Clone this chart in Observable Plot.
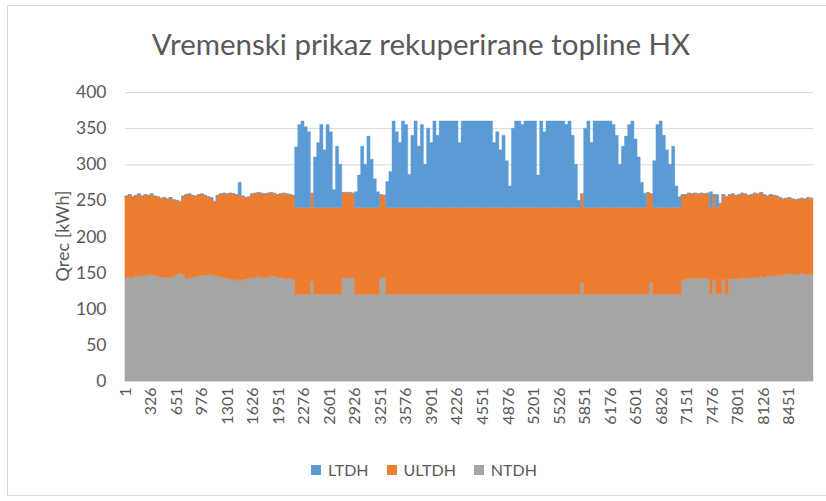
<!DOCTYPE html>
<html><head><meta charset="utf-8">
<script src="https://cdn.jsdelivr.net/npm/d3@7"></script>
<script src="https://cdn.jsdelivr.net/npm/@observablehq/plot@0.6"></script>
<style>
body{margin:0;background:#fff;font-family:Lato,"Open Sans",sans-serif;}
#frame{position:relative;width:826px;height:501px;overflow:hidden;background:#fff;}
#border{position:absolute;left:7px;top:5px;width:840px;height:491px;border:1px solid #d9d9d9;box-sizing:border-box;}
#title{position:absolute;left:0;width:842px;top:26px;text-align:center;font-size:29.5px;color:#595959;line-height:36px;}
#chart{position:absolute;left:0;top:70px;}
#ylabel{position:absolute;left:62px;top:236px;transform:translate(-50%,-50%) rotate(-90deg);font-size:18px;color:#595959;white-space:nowrap;}
#legend{position:absolute;top:460px;left:311px;display:flex;align-items:center;font-size:16px;color:#595959;}
.sw{display:inline-block;width:10px;height:10px;margin-right:7px;}
.it{display:flex;align-items:center;margin-right:18px;}
</style>
</head><body>
<div id="frame">
<div id="border"></div>
<div id="title">Vremenski prikaz rekuperirane topline HX</div>
<div id="chart"></div>
<div id="ylabel">Qrec [kWh]</div>
<div id="legend"></div>
</div>
<script>
// Series names, colours
const seriesNames = ["NTDH", "ULTDH", "LTDH"];
const seriesColors = ["#A5A5A5", "#ED7D31", "#5B9BD5"];
const legendOrder = ["LTDH", "ULTDH", "NTDH"];
// hourly data summarized in 40-hour bins (219 bins for 8760 hours)
const binHours = 40;
const totalHours = 8760;
const xTickLabels = [1,326,651,976,1301,1626,1951,2276,2601,2926,3251,3576,3901,4226,4551,4876,5201,5526,5851,6176,6501,6826,7151,7476,7801,8126,8451];
const yTicks = [0,50,100,150,200,250,300,350,400];

const NTDH = [
143,144,143,145,146,145,146,147,147,146,
145,144,144,143,144,145,147,149,147,142,
143,144,145,145,146,146,147,147,146,145,
144,143,142,141,140,140,139,140,141,142,
143,144,145,144,143,144,145,145,144,143,
142,141,142,141,120,120,120,120,120,138,
120,120,120,120,120,120,120,120,120,143,
144,142,143,120,120,120,120,120,120,120,
120,143,144,120,120,120,120,120,120,120,
120,120,120,120,120,120,120,120,120,120,
120,120,120,120,120,120,120,120,120,120,
120,120,120,120,120,120,120,120,120,120,
120,120,120,120,120,120,120,120,120,120,
120,120,120,120,120,120,120,120,120,120,
120,120,120,120,120,137,120,120,120,120,
120,120,120,120,120,120,120,120,120,120,
120,120,120,120,120,120,121,137,120,120,
120,120,120,120,120,120,120,139,141,142,
142,141,143,142,143,142,120,140,120,121,
141,120,141,142,141,142,143,142,143,144,
143,144,145,144,145,146,145,146,147,146,
148,149,148,147,148,149,148,147,147];

const ULTDH = [
113,114,112,112,113,111,112,110,112,110,
110,109,110,109,110,106,103,99,109,116,
116,113,111,113,113,111,108,107,102,112,
115,117,117,119,119,118,118,116,113,113,
116,116,116,116,116,116,116,115,114,116,
118,118,116,116,120,120,120,120,120,122,
120,120,120,120,120,120,120,120,120,118,
117,119,117,120,120,120,120,120,120,120,
120,115,113,120,120,120,120,120,120,120,
120,120,120,120,120,120,120,120,120,120,
120,120,120,120,120,120,120,120,120,120,
120,120,120,120,120,120,120,120,120,120,
120,120,120,120,120,120,120,120,120,120,
120,120,120,120,120,120,120,120,120,120,
120,120,120,120,120,122,120,120,120,120,
120,120,120,120,120,120,120,120,120,120,
120,120,120,120,120,120,140,122,120,120,
120,120,120,120,120,120,120,119,117,118,
117,119,116,118,116,118,120,118,120,125,
117,135,117,117,116,116,117,117,114,114,
117,115,116,114,111,112,112,110,107,106,
105,105,104,104,104,104,104,107,106];

const LTDH = [
0,0,0,0,0,0,0,0,0,0,
0,0,0,0,0,0,0,0,0,0,
0,0,0,0,0,0,0,0,0,0,
0,0,0,0,0,0,18,0,0,0,
0,0,0,0,0,0,0,0,0,0,
0,0,0,0,84,115,120,112,105,0,
70,90,115,80,115,105,25,85,60,0,
0,0,0,22,45,85,60,99,67,40,
22,0,0,36,50,120,105,90,120,115,
46,100,120,85,115,60,110,90,120,100,
120,120,120,120,120,120,90,120,120,120,
120,120,120,120,120,120,120,90,105,80,
100,65,30,110,120,120,115,120,120,120,
120,45,120,105,120,120,120,120,120,120,
115,120,100,60,10,0,110,120,90,120,
120,120,120,120,120,115,100,60,85,99,
115,120,95,70,35,20,0,0,65,115,
120,100,80,60,85,30,15,0,0,0,
0,0,0,0,0,0,22,0,18,0,
0,0,0,0,0,0,0,0,0,0,
0,0,0,0,0,0,0,0,0,0,
0,0,0,0,0,0,0,0,0];

const valuesBySeries = {NTDH, ULTDH, LTDH};
const table = [];
for (const s of seriesNames) {
  const vals = valuesBySeries[s];
  vals.forEach((v, i) => table.push({s, h: i * binHours + 0.5, v}));
  table.push({s, h: totalHours + 0.5, v: vals[vals.length - 1]});
}

const chart = Plot.plot({
  width: 826, height: 380,
  marginLeft: 125, marginRight: 13, marginTop: 22, marginBottom: 69,
  style: {fontFamily: "Lato, 'Open Sans', sans-serif", fontSize: "16px", color: "#595959", background: "transparent"},
  x: {domain: [0.5, totalHours + 0.5]},
  y: {domain: [0, 400]},
  color: {domain: seriesNames, range: seriesColors},
  marks: [
    Plot.gridY(yTicks, {stroke: "#d9d9d9", strokeOpacity: 1, strokeWidth: 1}),
    Plot.areaY(table, Plot.stackY({order: null}, {x: "h", y: "v", z: "s", fill: "s", stroke: "s", strokeWidth: 0.4, curve: "step-after"})),
    Plot.ruleY([0], {stroke: "#d9d9d9"}),
    Plot.axisY(yTicks, {tickSize: 0, tickPadding: 19, label: null, fontSize: 17.5}),
    Plot.axisX(xTickLabels, {tickSize: 0, tickPadding: 6, tickRotate: -90, label: null, tickFormat: d => String(d), fontSize: 16})
  ]
});
document.getElementById("chart").appendChild(chart);

const legend = document.getElementById("legend");
for (const name of legendOrder) {
  const it = document.createElement("div");
  it.className = "it";
  const sw = document.createElement("span");
  sw.className = "sw";
  sw.style.background = seriesColors[seriesNames.indexOf(name)];
  it.appendChild(sw);
  const t = document.createElement("span");
  t.textContent = name;
  it.appendChild(t);
  legend.appendChild(it);
}
</script>
</body></html>
